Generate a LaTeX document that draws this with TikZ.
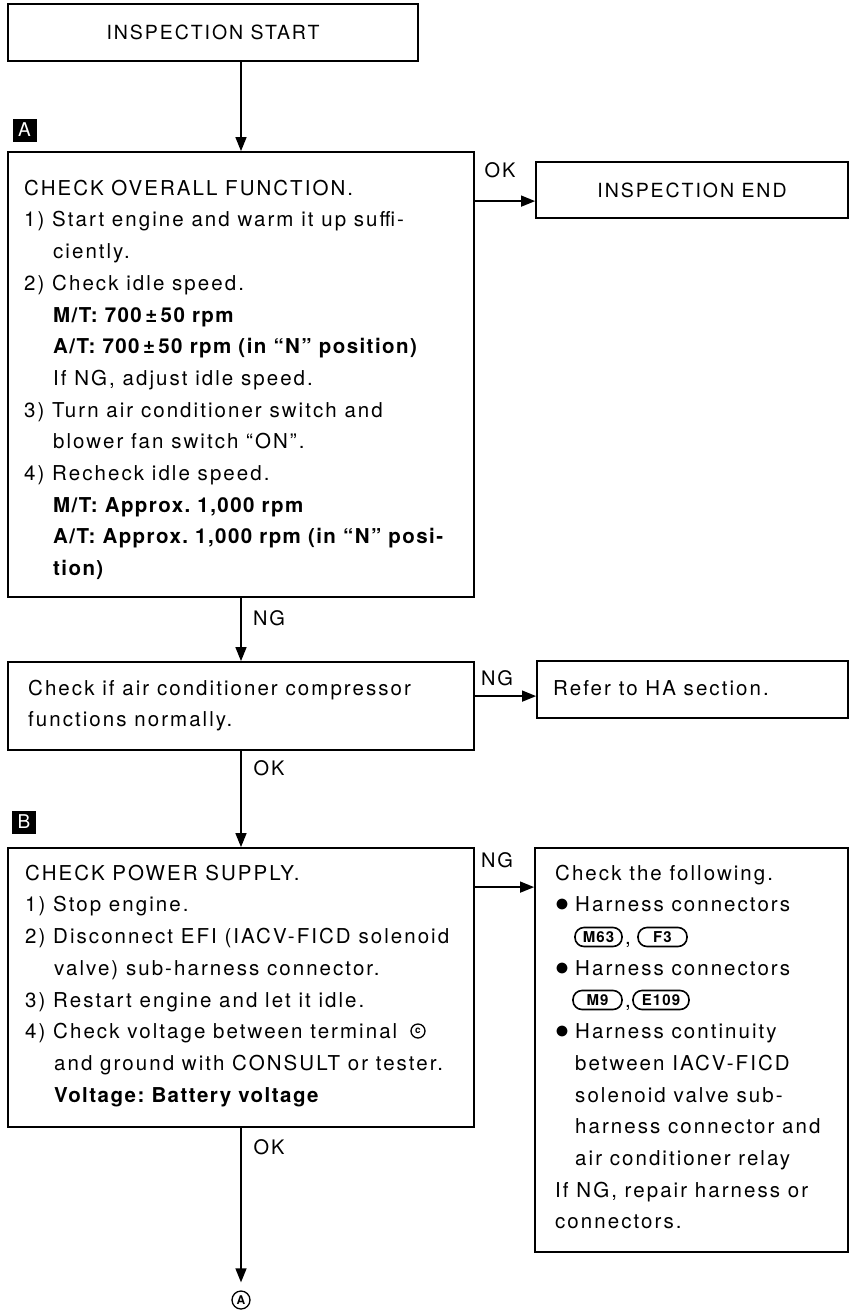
\documentclass[tikz,border=0pt]{standalone}
\usepackage{fontspec}
\setmainfont{TeX Gyre Heros}[LetterSpace=10, BoldFeatures={LetterSpace=7}]
\usetikzlibrary{arrows.meta}
\newcommand\indt{\hspace*{29pt}}
\newcommand\indb{\hspace*{20pt}}
\newcommand\blt{\makebox[20pt][l]{\scalebox{1.35}{$\bullet$}}}
\newcommand\strt{\rule{0pt}{16pt}}
\frenchspacing
\begin{document}
\frenchspacing
\begin{tikzpicture}[x=1pt,y=-1pt,
  box/.style={draw, line width=1.8pt, inner sep=0pt},
  txt/.style={font=\fontsize{20.5}{31.7}\selectfont, align=left, inner sep=0pt},
  lbl/.style={font=\fontsize{20}{24}\selectfont, inner sep=0pt},
  arr/.style={line width=1.4pt, -{Triangle[length=14pt,width=11pt]}},
  marker/.style={fill=black, text=white, minimum width=24pt, minimum height=23pt, inner sep=0pt, font=\fontsize{19}{19}\selectfont\addfontfeature{LetterSpace=0}},
  conn/.style={draw, line width=1.6pt, rounded corners=9pt, minimum height=19pt, inner sep=0pt, font=\fontsize{15}{15}\selectfont\bfseries\addfontfeature{LetterSpace=0}},
  circ/.style={draw, circle, line width=1.3pt, inner sep=0pt}]
\useasboundingbox (0,0) rectangle (852,1310);
\fill[white] (0,0) rectangle (852,1310);

% boxes
\node[box, minimum width=410pt, minimum height=57pt, font=\fontsize{19.5}{24}\selectfont] (start) at (213,32.5) {INSPECTION START};
\node[box, minimum width=312pt, minimum height=56pt, font=\fontsize{19.5}{24}\selectfont] (end) at (692,190) {INSPECTION END};
\node[box, minimum width=466pt, minimum height=445pt] (boxA) at (241,374.5) {};
\node[box, minimum width=466pt, minimum height=88pt] (cmp) at (241,706) {};
\node[box, minimum width=311pt, minimum height=57pt] (refer) at (692.5,689.5) {};
\node[box, minimum width=466pt, minimum height=279pt] (boxB) at (241,987.5) {};
\node[box, minimum width=313pt, minimum height=404pt] (chk) at (691.5,1050) {};

% markers
\node[marker] (mA) at (24.5,130) {A};
\node[marker] (mB) at (24,822) {B};

% texts
\node[txt, anchor=north west] (tA) at (24,179) {\strt CHECK OVERALL FUNCTION.\\
1) Start engine and warm it up suffi-\\
\indt ciently.\\
2) Check idle speed.\\
\indt\textbf{M/T: 700\,±\,50 rpm}\\
\indt\textbf{A/T: 700\,±\,50 rpm (in “N” position)}\\
\indt If NG, adjust idle speed.\\
3) Turn air conditioner switch and\\
\indt blower fan switch “ON”.\\
4) Recheck idle speed.\\
\indt\textbf{M/T: Approx. 1,000 rpm}\\
\indt\textbf{A/T: Approx. 1,000 rpm (in “N” posi-}\\
\indt\textbf{tion)}};

\node[txt, anchor=north west] (tC) at (28,679) {\strt Check if air conditioner compressor\\
functions normally.};

\node[txt, anchor=base west] (tR) at (553,695) {Refer to HA section.};

\node[txt, anchor=north west] (tB) at (25,864) {\strt CHECK POWER SUPPLY.\\
1) Stop engine.\\
2) Disconnect EFI (IACV-FICD solenoid\\
\indt valve) sub-harness connector.\\
3) Restart engine and let it idle.\\
4) Check voltage between terminal\\
\indt and ground with CONSULT or tester.\\
\indt\textbf{Voltage: Battery voltage}};
\node[circ, minimum size=14pt, font=\fontsize{10}{10}\selectfont\bfseries\addfontfeature{LetterSpace=0}] (termc) at (418,1031) {c};

\node[txt, anchor=north west] (tK) at (555,864) {\strt Check the following.\\
\blt Harness connectors\\
\mbox{}\\
\blt Harness connectors\\
\mbox{}\\
\blt Harness continuity\\
\indb between IACV-FICD\\
\indb solenoid valve sub-\\
\indb harness connector and\\
\indb air conditioner relay\\
If NG, repair harness or\\
connectors.};

\node[conn, minimum width=47pt] (cM63) at (598.5,937) {M63};
\node[txt, anchor=base] (cm1) at (628,944) {,};
\node[conn, minimum width=49pt] (cF3) at (662.5,937) {F3};
\node[conn, minimum width=49pt] (cM9) at (597.5,1000) {M9};
\node[txt, anchor=base] (cm2) at (628,1007) {,};
\node[conn, minimum width=56pt] (cE109) at (661,1000) {E109};

\node[circ, minimum size=18pt, font=\fontsize{12}{12}\selectfont\bfseries\addfontfeature{LetterSpace=0}] (endA) at (241,1300) {A};

% connectors
\coordinate (okA) at ([yshift=-50pt]boxA.north east);
\coordinate (ngC) at ([yshift=-35pt]cmp.north east);
\coordinate (ngB) at ([yshift=-40pt]boxB.north east);
\draw[arr] (start.south -| boxA.north) -- (boxA.north);
\draw[arr] (okA) -- (okA -| end.west);
\draw[arr] (boxA.south) -- (cmp.north);
\draw[arr] (ngC) -- (ngC -| refer.west);
\draw[arr] (cmp.south) -- (boxB.north);
\draw[arr] (ngB) -- (ngB -| chk.west);
\draw[arr] (boxB.south) -- ([yshift=8pt]endA.north);

% labels
\node[lbl] (lOK1) at (500,170) {OK};
\node[lbl] (lNG1) at (269,618) {NG};
\node[lbl] (lNG2) at (497,678) {NG};
\node[lbl] (lOK2) at (269,768) {OK};
\node[lbl] (lNG3) at (497,860) {NG};
\node[lbl] (lOK3) at (269,1147) {OK};
\end{tikzpicture}
\end{document}
